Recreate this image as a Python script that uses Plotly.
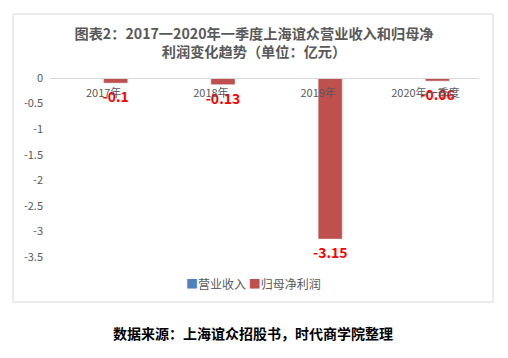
import plotly.graph_objects as go

categories = ["2017年", "2018年", "2019年", "2020年一季度"]
revenue = [0, 0, 0, 0]
net_profit = [-0.1, -0.13, -3.15, -0.06]
profit_labels = ["-0.1", "-0.13", "-3.15", "-0.06"]
ytick_vals = [0, -0.5, -1, -1.5, -2, -2.5, -3, -3.5]
ytick_text = ["0", "-0.5", "-1", "-1.5", "-2", "-2.5", "-3", "-3.5"]
series_names = ["营业收入", "归母净利润"]
series_colors = ["#4f81bd", "#c0504d"]

FONT = "Noto Sans CJK SC, Microsoft YaHei, sans-serif"
GRAY = "#595959"

fig = go.Figure()
fig.add_trace(go.Bar(x=categories, y=revenue, name=series_names[0],
                     marker_color=series_colors[0], hoverinfo="skip"))
fig.add_trace(go.Bar(x=categories, y=net_profit, name=series_names[1],
                     marker_color=series_colors[1], text=profit_labels,
                     textposition="outside", cliponaxis=False, constraintext="none",
                     textfont=dict(color="#ff0000", size=14, family=FONT, weight="bold")))

legend_text = " ".join(
    f"<span style='color:{c}'>■</span><span style='color:{GRAY}'>{n}</span>"
    for n, c in zip(series_names, series_colors))

fig.update_layout(
    width=508, height=358,
    margin=dict(l=50, r=29, t=78, b=101),
    paper_bgcolor="white", plot_bgcolor="white",
    barmode="group", bargap=0.55, bargroupgap=0,
    font=dict(family=FONT, color=GRAY, size=11),
    title=dict(text="图表2：2017一2020年一季度上海谊众营业收入和归母净<br>利润变化趋势（单位：亿元）",
               x=0.5, xanchor="center", y=1 - 39 / 358, yanchor="middle",
               font=dict(size=14.2, color=GRAY, family=FONT, weight="bold")),
    showlegend=False,
    xaxis=dict(anchor="free", position=1.0, side="bottom", showline=True,
               linecolor="#d9d9d9", linewidth=1, ticks="", showgrid=False,
               tickfont=dict(size=11, color=GRAY), ticklabelstandoff=5),
    yaxis=dict(range=[-3.5, 0], tickvals=ytick_vals, ticktext=ytick_text,
               showgrid=False, zeroline=False, showline=False, ticks="",
               tickfont=dict(size=11, color=GRAY), ticklabelstandoff=6),
    shapes=[dict(type="rect", xref="paper", yref="paper",
                 x0=(13 - 50) / 429, x1=(493 - 50) / 429,
                 y0=(257 - 302) / 179, y1=(257 - 14) / 179,
                 line=dict(color="#d9d9d9", width=1), fillcolor="rgba(0,0,0,0)",
                 layer="below")],
    annotations=[
        dict(text=legend_text, xref="paper", yref="paper", x=(253 - 50) / 429,
             y=(257 - 283) / 179, xanchor="center", yanchor="middle",
             showarrow=False, font=dict(size=12, family=FONT)),
        dict(text="数据来源：上海谊众招股书，时代商学院整理",
             xref="paper", yref="paper", x=(253 - 50) / 429,
             y=(257 - 333) / 179, xanchor="center", yanchor="middle",
             showarrow=False,
             font=dict(size=14, color="#000000", family=FONT, weight="bold")),
    ],
)

fig.write_html("out.html", config={"displayModeBar": False},
               post_script="document.body.style.margin='0';")
